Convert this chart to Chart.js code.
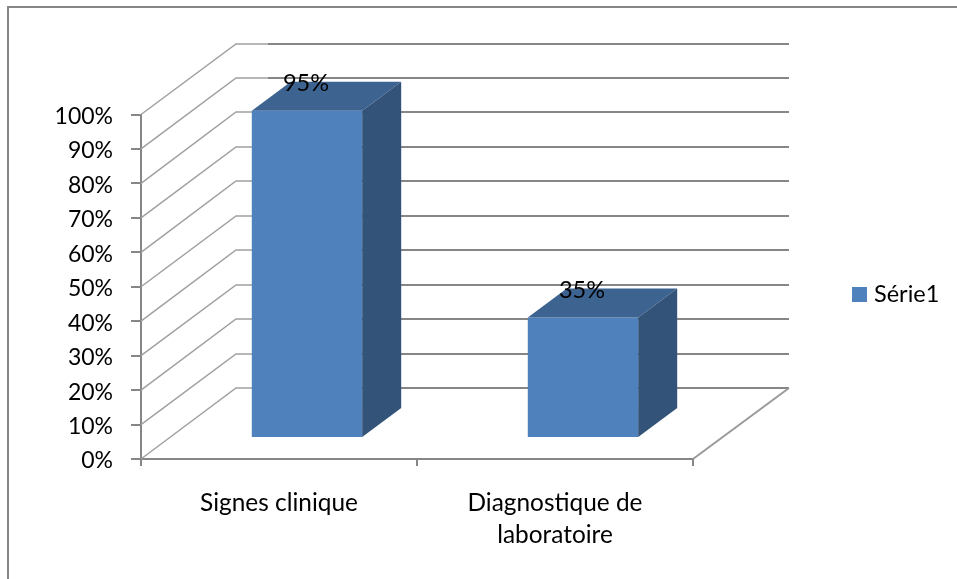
<!DOCTYPE html>
<html>
<head>
<meta charset="utf-8">
<style>
  html, body { margin: 0; padding: 0; background: #fff; }
  canvas { display: block; }
</style>
<script src="https://cdn.jsdelivr.net/npm/chart.js@4/dist/chart.umd.min.js"></script>
</head>
<body>
<canvas id="chart" width="957" height="579"></canvas>
<script>
const categories = ['Signes clinique', ['Diagnostique de', 'laboratoire']];
const seriesName = 'Série1';
const seriesValues = [95, 35];

const FONT = 'Lato, Carlito, sans-serif';
const GREY = '#868686';

// depth of the 3D box: the floor/back wall offset and the bar offset inside it
const wall = { dx: 95, dy: -71 };
const barShift = { dx: 28, dy: -21 };
const barDepth = { dx: 39, dy: -29 };

function line(ctx, pts, color, width) {
  ctx.beginPath();
  pts.forEach((p, i) => i ? ctx.lineTo(p[0], p[1]) : ctx.moveTo(p[0], p[1]));
  ctx.strokeStyle = color;
  ctx.lineWidth = width;
  ctx.stroke();
}

function fillPoly(ctx, pts, color) {
  ctx.beginPath();
  pts.forEach((p, i) => i ? ctx.lineTo(p[0], p[1]) : ctx.moveTo(p[0], p[1]));
  ctx.closePath();
  ctx.fillStyle = color;
  ctx.fill();
}

const box3d = {
  id: 'box3d',
  afterLayout(chart) {
    // Lato sits a little high on a middle baseline, nudge the y labels down
    chart.scales.y.getLabelItems().forEach((item) => { item.options.translation[1] += 2; });
  },
  beforeDraw(chart) {
    // outer frame, open on the right and bottom
    line(chart.ctx, [[8, 579], [8, 7], [957, 7]], GREY, 2);
  },
  beforeDatasetsDraw(chart) {
    const { ctx, chartArea, scales } = chart;
    const { left, right } = chartArea;
    const bottom = scales.y.getPixelForValue(0);

    // side wall and back wall gridlines
    scales.y.ticks.forEach((t) => {
      const y = scales.y.getPixelForValue(t.value);
      const bx = left + wall.dx;
      const by = Math.round(y + wall.dy);
      line(ctx, [[left, y], [bx, by], [bx + 32, by]], '#a0a0a0', 1.5);
      line(ctx, [[bx + 32, by], [right + wall.dx + 1, by]], GREY, 2);
    });
    // floor edge on the right
    line(ctx, [[right, bottom], [right + wall.dx + 1, bottom + wall.dy]], '#9a9a9a', 2);

    ctx.save();
    ctx.translate(barShift.dx, barShift.dy);
  },
  afterDatasetsDraw(chart) {
    const { ctx } = chart;
    ctx.restore();

    chart.getDatasetMeta(0).data.forEach((bar, i) => {
      const x0 = bar.x - bar.width / 2 + barShift.dx;
      const x1 = bar.x + bar.width / 2 + barShift.dx;
      const yTop = bar.y + barShift.dy;
      const yBase = bar.base + barShift.dy;
      const { dx, dy } = barDepth;

      fillPoly(ctx, [[x0, yTop], [x0 + dx, yTop + dy], [x1 + dx, yTop + dy], [x1, yTop]], '#3d6390');
      fillPoly(ctx, [[x1, yTop], [x1 + dx, yTop + dy], [x1 + dx, yBase + dy], [x1, yBase]], '#335379');

      // value label sits on the top face
      ctx.font = '23.5px ' + FONT;
      ctx.fillStyle = '#000';
      ctx.textAlign = 'center';
      ctx.textBaseline = 'middle';
      ctx.fillText(seriesValues[i] + '%', x0 + (x1 - x0) / 2 - 1, yTop - 27);
    });

    // legend
    ctx.fillStyle = '#4f81bd';
    ctx.fillRect(852, 287, 15, 15);
    ctx.font = '23.5px ' + FONT;
    ctx.fillStyle = '#000';
    ctx.textAlign = 'left';
    ctx.textBaseline = 'middle';
    ctx.fillText(chart.data.datasets[0].label, 874, 294);
  }
};

new Chart(document.getElementById('chart'), {
  type: 'bar',
  data: {
    labels: categories,
    datasets: [{
      label: seriesName,
      data: seriesValues,
      backgroundColor: '#4f81bd',
      borderWidth: 0,
      barPercentage: 0.4,
      categoryPercentage: 1
    }]
  },
  plugins: [box3d],
  options: {
    responsive: false,
    animation: false,
    layout: { padding: { left: 0, top: 114.5, right: 264, bottom: 0 } },
    plugins: {
      legend: { display: false },
      tooltip: { enabled: false }
    },
    scales: {
      x: {
        afterFit(scale) { scale.height = 120; },
        border: { color: GREY, width: 2 },
        grid: { drawOnChartArea: false, color: GREY, lineWidth: 2, tickLength: 7 },
        ticks: {
          color: '#000',
          padding: 21,
          maxRotation: 0,
          font: { family: FONT, size: 24.4, lineHeight: 1.31 }
        }
      },
      y: {
        min: 0,
        max: 100,
        afterFit(scale) { scale.width = 141; },
        border: { color: GREY, width: 2 },
        grid: { drawOnChartArea: false, color: GREY, lineWidth: 2, tickLength: 10 },
        ticks: {
          stepSize: 10,
          color: '#000',
          padding: 18,
          callback: (v) => v + '%',
          font: { family: FONT, size: 23 }
        }
      }
    }
  }
});
</script>
</body>
</html>
